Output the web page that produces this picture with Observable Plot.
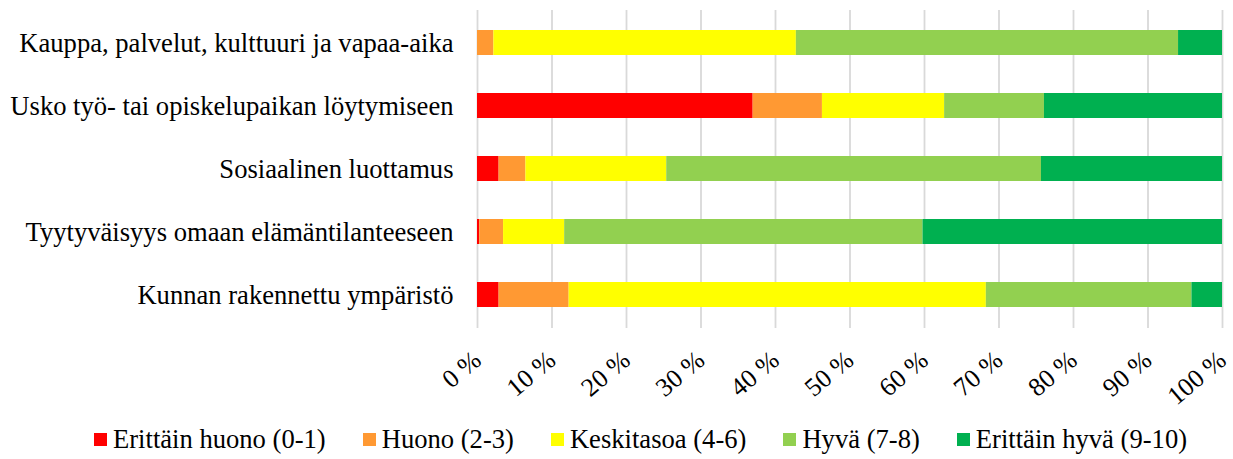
<!DOCTYPE html>
<html>
<head>
<meta charset="utf-8">
<script src="https://cdn.jsdelivr.net/npm/d3@7"></script>
<script src="https://cdn.jsdelivr.net/npm/@observablehq/plot@0.6"></script>
<style>
  html, body { margin: 0; padding: 0; background: #fff; }
  #chart svg { display: block; }
  #chart svg text { font-family: "Liberation Serif", "DejaVu Serif", "Noto Serif", "Times New Roman", Times, serif; }
  .legend { display: flex; align-items: center; height: 39px; padding-left: 94px; gap: 37px;
            font-family: "Liberation Serif", "DejaVu Serif", "Noto Serif", "Times New Roman", Times, serif; font-size: 26.6px; color: #000; }
  .legend .item { display: flex; align-items: center; white-space: nowrap; }
  .legend .sw { width: 13px; height: 13px; margin-right: 6px; display: inline-block; }
</style>
</head>
<body>
<div id="chart"></div>
<script>
const categories = [
  "Kauppa, palvelut, kulttuuri ja vapaa-aika",
  "Usko työ- tai opiskelupaikan löytymiseen",
  "Sosiaalinen luottamus",
  "Tyytyväisyys omaan elämäntilanteeseen",
  "Kunnan rakennettu ympäristö"
];
const seriesNames = ["Erittäin huono (0-1)", "Huono (2-3)", "Keskitasoa (4-6)", "Hyvä (7-8)", "Erittäin hyvä (9-10)"];
const seriesColors = ["#FF0000", "#FF9933", "#FFFF00", "#92D050", "#00B050"];
const erittainHuono = [0, 37.0, 2.9, 0.3, 2.9];
const huono = [2.2, 9.3, 3.6, 3.2, 9.4];
const keskitasoa = [40.6, 16.4, 18.9, 8.2, 56.0];
const hyva = [51.3, 13.4, 50.3, 48.1, 27.6];
const erittainHyva = [5.9, 23.9, 24.3, 40.2, 4.1];
const xTicks = [0, 10, 20, 30, 40, 50, 60, 70, 80, 90, 100];

const seriesValues = [erittainHuono, huono, keskitasoa, hyva, erittainHyva];
const data = [];
seriesNames.forEach((s, si) => {
  categories.forEach((c, ci) => {
    data.push({category: c, series: s, value: seriesValues[si][ci]});
  });
});

const font = '"Liberation Serif", "DejaVu Serif", "Noto Serif", "Times New Roman", Times, serif';

const chart = Plot.plot({
  width: 1233,
  height: 420,
  marginLeft: 477,
  marginRight: 11,
  marginTop: 10,
  marginBottom: 92,
  style: {fontFamily: font, fontSize: "26.6px", color: "#000", background: "#fff"},
  x: {domain: [0, 100], ticks: xTicks, tickFormat: d => d + " %"},
  y: {domain: categories, paddingInner: 0.6, paddingOuter: 0.3},
  color: {domain: seriesNames, range: seriesColors},
  marks: [
    Plot.gridX(xTicks, {stroke: "#d9d9d9", strokeOpacity: 1, strokeWidth: 1.8}),
    Plot.barX(data, Plot.stackX({y: "category", x: "value", fill: "series", order: null})),
    Plot.axisX({ticks: xTicks, tickFormat: d => d + " %", tickSize: 0, tickPadding: 28, tickRotate: -40,
                fontSize: 26, label: null}),
    Plot.axisY({tickSize: 0, tickPadding: 24, fontSize: 26.6, label: null})
  ]
});
document.getElementById("chart").appendChild(chart);

const legend = document.createElement("div");
legend.className = "legend";
seriesNames.forEach((s, i) => {
  const item = document.createElement("div");
  item.className = "item";
  const sw = document.createElement("span");
  sw.className = "sw";
  sw.style.background = seriesColors[i];
  item.appendChild(sw);
  item.appendChild(document.createTextNode(s));
  legend.appendChild(item);
});
document.body.appendChild(legend);
</script>
</body>
</html>
